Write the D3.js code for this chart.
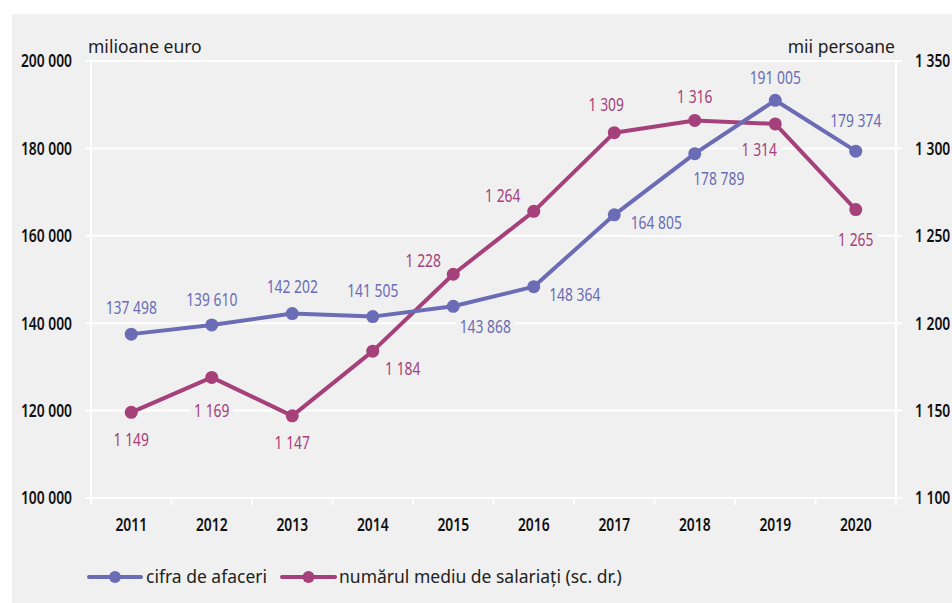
<!DOCTYPE html>
<html><head><meta charset="utf-8">
<script src="https://cdn.jsdelivr.net/npm/d3@7"></script>
<style>
body{margin:0;background:#fff;}
text{font-family:"Noto Sans","Open Sans",sans-serif;}
</style></head>
<body>
<svg id="c" width="952" height="603"></svg>
<script>
const years = ["2011","2012","2013","2014","2015","2016","2017","2018","2019","2020"];
const turnover = [137498,139610,142202,141505,143868,148364,164805,178789,191005,179374];
const employees = [1149,1169,1147,1184,1228,1264,1309,1316,1314,1265];
const leftTicks = [100000,120000,140000,160000,180000,200000];
const rightTicks = [1100,1150,1200,1250,1300,1350];
const seriesNames = ["cifra de afaceri","numărul mediu de salariați (sc. dr.)"];
const axisTitles = ["milioane euro","mii persoane"];
// label offsets (dx, dy) relative to each point
const turnoverLabelPos = [[0,-27],[0,-25],[0,-27],[0,-26],[32,20],[41,8],[42,8],[24,25],[0,-23],[0,-31]];
const employeesLabelPos = [[0,27],[0,33],[0,27],[30,17],[-30,-14],[-31,-16],[-8,-28],[0,-24],[-16,26],[0,30]];

const BLUE = "#6a6db5", MAG = "#a6407a", BG = "#f0f0f0";
const SX = 0.77;
const svg = d3.select("#c");
svg.append("rect").attr("x",12).attr("y",14).attr("width",940).attr("height",589).attr("fill",BG);

const x = d3.scaleBand().domain(years).range([91,896]);
const yL = d3.scaleLinear().domain([100000,200000]).range([498,61]);
const yR = d3.scaleLinear().domain([1100,1350]).range([498,61]);
const fmt = v => d3.format(",")(v).replace(/,/g," ");
const cx = d => x(d) + x.bandwidth()/2;
const tr = (px,py) => `translate(${px},${py}) scale(${SX},1)`;

const grid = svg.append("g");
grid.selectAll("line.g").data(leftTicks).join("line")
  .attr("x1",85).attr("x2",902).attr("y1",d=>yL(d)).attr("y2",d=>yL(d))
  .attr("stroke","#fff").attr("stroke-width",2);
grid.append("line").attr("x1",91).attr("x2",91).attr("y1",61).attr("y2",505).attr("stroke","#fff").attr("stroke-width",2);
grid.append("line").attr("x1",896).attr("x2",896).attr("y1",61).attr("y2",505).attr("stroke","#fff").attr("stroke-width",2);
grid.selectAll("line.t").data(years.slice(1)).join("line")
  .attr("x1",d=>x(d)).attr("x2",d=>x(d)).attr("y1",498).attr("y2",505)
  .attr("stroke","#fff").attr("stroke-width",2);

function tickText(g, data, px, py, anchor, f){
  g.selectAll("text").data(data).join("text")
    .attr("transform",d=>tr(px(d),py(d))).attr("dy","0.36em").attr("text-anchor",anchor)
    .attr("font-size",18).attr("font-weight",600).attr("fill","#111").text(f);
}
tickText(svg.append("g"), leftTicks, ()=>72, d=>yL(d), "end", fmt);
tickText(svg.append("g"), rightTicks, ()=>915, d=>yR(d), "start", fmt);
tickText(svg.append("g"), years, d=>cx(d), ()=>525, "middle", d=>d);

svg.append("text").attr("x",88).attr("y",53).attr("font-size",17.5).attr("fill","#222").text(axisTitles[0]);
svg.append("text").attr("x",895).attr("y",53).attr("text-anchor","end").attr("font-size",17.5).attr("fill","#222").text(axisTitles[1]);

const lblBg = svg.append("g"), linesG = svg.append("g"), lblTx = svg.append("g");
function labels(vals, ys, pos, color){
  vals.forEach((v,i)=>{
    const px = cx(years[i])+pos[i][0], py = ys(v)+pos[i][1];
    const t = lblTx.append("text").attr("transform",tr(px,py)).attr("dy","0.36em")
      .attr("text-anchor","middle").attr("font-size",18).attr("fill",color).text(fmt(v));
    const b = t.node().getBBox();
    lblBg.append("rect").attr("transform",tr(px,py)).attr("x",b.x-5).attr("y",b.y).attr("width",b.width+10).attr("height",b.height).attr("fill",BG);
  });
}
labels(turnover, yL, turnoverLabelPos, BLUE);
labels(employees, yR, employeesLabelPos, MAG);

function series(vals, ys, color){
  linesG.append("path").datum(vals)
    .attr("d", d3.line().x((d,i)=>cx(years[i])).y(d=>ys(d)))
    .attr("fill","none").attr("stroke",color).attr("stroke-width",4).attr("stroke-linejoin","round");
  linesG.selectAll(null).data(vals).join("circle")
    .attr("cx",(d,i)=>cx(years[i])).attr("cy",d=>ys(d)).attr("r",6.5).attr("fill",color);
}
series(employees, yR, MAG);
series(turnover, yL, BLUE);

const leg = svg.append("g");
[[89,141,BLUE,146],[282,335,MAG,339]].forEach((l,i)=>{
  leg.append("line").attr("x1",l[0]).attr("x2",l[1]).attr("y1",577).attr("y2",577).attr("stroke",l[2]).attr("stroke-width",4).attr("stroke-linecap","round");
  leg.append("circle").attr("cx",(l[0]+l[1])/2).attr("cy",577).attr("r",6).attr("fill",l[2]);
  leg.append("text").attr("x",l[3]).attr("y",577).attr("dy","0.35em").attr("font-size",17.5).attr("fill","#222").text(seriesNames[i]);
});
</script>
</body></html>
